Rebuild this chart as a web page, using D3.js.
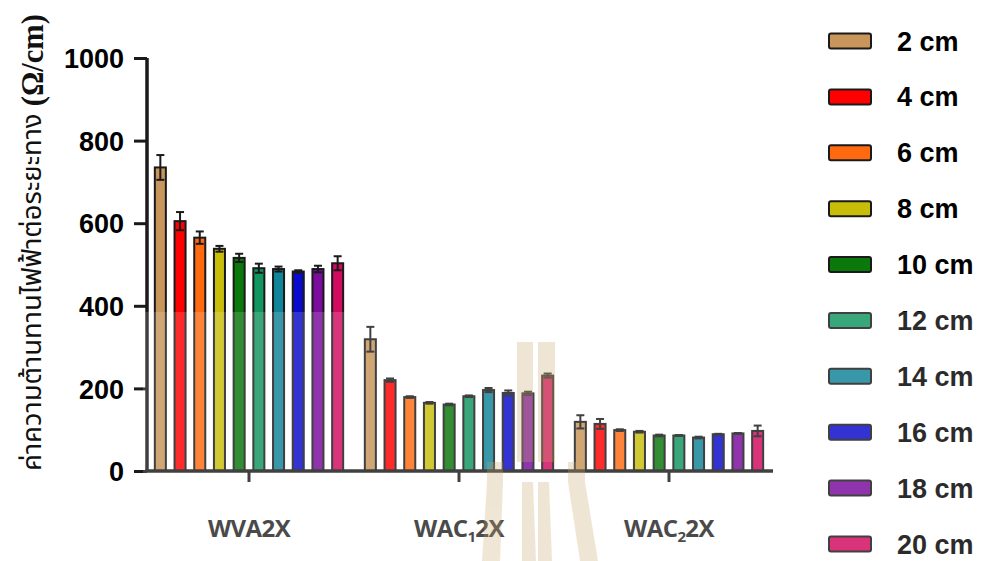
<!DOCTYPE html>
<html>
<head>
<meta charset="utf-8">
<script src="https://cdn.jsdelivr.net/npm/d3@7/dist/d3.min.js"></script>
<style>
  html, body { margin: 0; padding: 0; background: #fff; }
  svg { display: block; }
</style>
</head>
<body>
<svg id="chart" width="984" height="561"></svg>
<script>
// ---------------- data ----------------
const groups = ["WVA2X", "WAC12X", "WAC22X"];
const groupLabelHead = ["WVA2X", "WAC", "WAC"];
const groupLabelSub  = ["", "1", "2"];
const groupLabelTail = ["", "2X", "2X"];
const distances = ["2 cm", "4 cm", "6 cm", "8 cm", "10 cm", "12 cm", "14 cm", "16 cm", "18 cm", "20 cm"];
const wva2x    = [735, 605, 565, 538, 516, 491, 489, 483, 489, 503];
const wva2xErr = [30, 22, 15, 7, 10, 11, 6, 3, 8, 17];
const wac12x    = [319, 220, 179, 165, 161, 181, 196, 189, 188, 231];
const wac12xErr = [30, 4, 2, 2, 2, 2, 5, 6, 4, 5];
const wac22x    = [119, 114, 99, 95, 86, 86, 81, 89, 91, 97];
const wac22xErr = [16, 12, 2, 2, 2, 1, 2, 1, 1, 13];
const yTicks = [0, 200, 400, 600, 800, 1000];
const colors = ["#C8955A", "#FF0000", "#FF6A10", "#C8BE0A", "#0A780A",
                "#11965F", "#108498", "#0A0ACC", "#7A0C9E", "#D20A60"];
const yTitleThai = "ค่าความต้านทานไฟฟ้าต่อระยะทาง";
const yTitleUnit = "(Ω/cm)";

const seriesByGroup = [wva2x, wac12x, wac22x];
const errByGroup = [wva2xErr, wac12xErr, wac22xErr];
const table = [];
groups.forEach((g, gi) => distances.forEach((d, di) => {
  table.push({ group: g, dist: d, value: seriesByGroup[gi][di], err: errByGroup[gi][di], color: colors[di] });
}));

// ---------------- layout ----------------
const svg = d3.select("#chart");
const axisX = 147, axisRight = 773;
const y = d3.scaleLinear().domain([0, 1000]).range([471, 58]);
const x0 = d3.scaleBand().domain(groups).range([144, 774]).padding(0);
const x1 = d3.scaleBand().domain(distances).range([6.5, 203.5]).paddingInner(0.44).paddingOuter(0.22);
const color = d3.scaleOrdinal().domain(distances).range(colors);

const ink = "#1a1a1a";

// bars
svg.append("g").selectAll("rect").data(table).join("rect")
  .attr("x", d => x0(d.group) + x1(d.dist))
  .attr("y", d => y(d.value))
  .attr("width", x1.bandwidth())
  .attr("height", d => y(0) - y(d.value))
  .attr("fill", d => color(d.dist))
  .attr("stroke", ink)
  .attr("stroke-width", 2);

// error bars
const eb = svg.append("g").attr("stroke", ink).attr("stroke-width", 2);
const cap = 4;
table.forEach(d => {
  const cx = x0(d.group) + x1(d.dist) + x1.bandwidth() / 2;
  if (d.err <= 0) return;
  eb.append("line").attr("x1", cx).attr("x2", cx).attr("y1", y(d.value + d.err)).attr("y2", y(d.value - d.err));
  eb.append("line").attr("x1", cx - cap).attr("x2", cx + cap).attr("y1", y(d.value + d.err)).attr("y2", y(d.value + d.err));
  eb.append("line").attr("x1", cx - cap).attr("x2", cx + cap).attr("y1", y(d.value - d.err)).attr("y2", y(d.value - d.err));
});

// y axis
const yAxis = svg.append("g").attr("transform", `translate(${axisX},0)`)
  .call(d3.axisLeft(y).tickValues(yTicks).tickSize(13).tickPadding(10).tickFormat(d3.format("d")));
yAxis.select(".domain").attr("d", `M0,${y(1000)}V${y(0)}`).attr("stroke", ink).attr("stroke-width", 3.5);
yAxis.selectAll(".tick line").attr("stroke", ink).attr("stroke-width", 3);
yAxis.selectAll(".tick text")
  .attr("font-family", "'Liberation Sans', Arial, sans-serif")
  .attr("font-weight", "bold").attr("font-size", 27).attr("fill", "#000")
  .attr("dy", "0.36em");

// x axis
const xAxisG = svg.append("g").attr("transform", `translate(0,${y(0)})`);
xAxisG.append("line").attr("x1", axisX - 1.75).attr("x2", axisRight).attr("y1", 0).attr("y2", 0)
  .attr("stroke", ink).attr("stroke-width", 3.5);
xAxisG.selectAll("line.tk").data(groups).join("line").attr("class", "tk")
  .attr("x1", g => x0(g) + x0.bandwidth() / 2).attr("x2", g => x0(g) + x0.bandwidth() / 2)
  .attr("y1", 0).attr("y2", 11).attr("stroke", ink).attr("stroke-width", 3);

const xl = svg.append("g")
  .attr("font-family", "'Open Sans', 'Liberation Sans', sans-serif")
  .attr("font-weight", "bold").attr("fill", "#262626");
groups.forEach((g, i) => {
  const t = xl.append("text")
    .attr("x", x0(g) + x0.bandwidth() / 2).attr("y", 537)
    .attr("text-anchor", "middle").attr("font-size", 24).attr("letter-spacing", -0.6);
  t.append("tspan").text(groupLabelHead[i]);
  if (groupLabelSub[i]) {
    t.append("tspan").attr("font-size", 15).attr("dy", 5).text(groupLabelSub[i]);
    t.append("tspan").attr("dy", -5).text(groupLabelTail[i]);
  }
});

// y title (rotated)
const yt = svg.append("text")
  .attr("transform", "translate(41,471) rotate(-90)")
  .attr("text-anchor", "start").attr("fill", "#111");
yt.append("tspan").attr("font-family", "'Noto Sans Thai', 'Noto Sans', 'DejaVu Sans', sans-serif")
  .attr("font-size", 27.5).text(yTitleThai + " ");
yt.append("tspan").attr("font-family", "'Liberation Serif', 'Times New Roman', serif")
  .attr("font-weight", "bold").attr("font-size", 30.5).attr("dy", 2).text(yTitleUnit);

// legend
const lg = svg.append("g");
const legY = d3.scalePoint().domain(distances).range([41, 544]);
lg.selectAll("rect").data(distances).join("rect")
  .attr("x", 829).attr("y", d => legY(d) - 7.5).attr("width", 42).attr("height", 15)
  .attr("rx", 2).attr("fill", d => color(d)).attr("stroke", ink).attr("stroke-width", 2);
lg.selectAll("text").data(distances).join("text")
  .attr("x", 897).attr("y", d => legY(d) + 9.5)
  .attr("font-family", "'Liberation Sans', Arial, sans-serif")
  .attr("font-weight", "bold").attr("font-size", 27).attr("fill", "#000")
  .text(d => d);

// watermark: light band + logo
svg.append("rect").attr("x", 143).attr("y", 312).attr("width", 841).attr("height", 249)
  .attr("fill", "#fff").attr("opacity", 0.17);
const wm = svg.append("g").attr("fill", "#C9A66B").attr("opacity", 0.28);
const shapes = [
  [[517,342],[533,342],[533,462],[517,462]],
  [[538,342],[555,342],[555,462],[538,462]],
  [[487,462],[503,462],[503,482],[487,482]],
  [[568,462],[585,462],[585,482],[568,482]],
  [[487,482],[503,482],[500,561],[482,561]],
  [[522,482],[533,482],[536,561],[522,561]],
  [[538,482],[549,482],[552,561],[538,561]],
  [[568,482],[585,482],[598,561],[580,561]]
];
shapes.forEach(p => wm.append("path").attr("d", d3.line()(p) + "Z"));
</script>
</body>
</html>
